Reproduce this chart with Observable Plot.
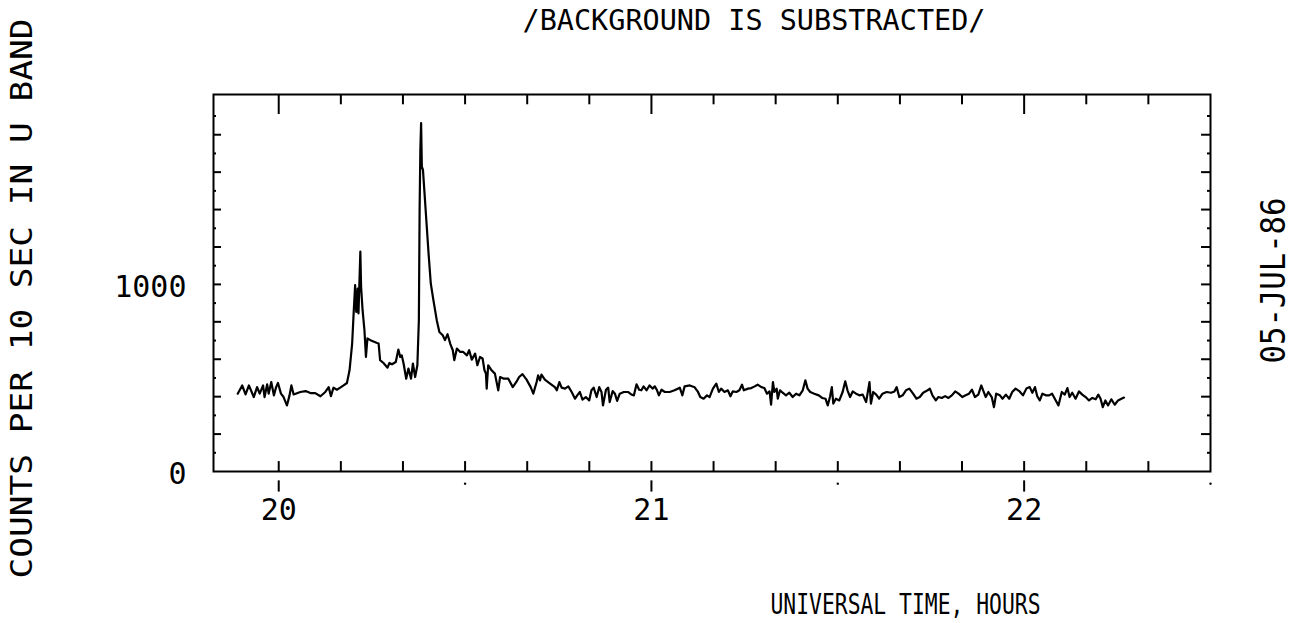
<!DOCTYPE html>
<html><head><meta charset="utf-8">
<script src="https://cdn.jsdelivr.net/npm/d3@7"></script>
<script src="https://cdn.jsdelivr.net/npm/@observablehq/plot@0.6"></script>
<style>body{margin:0;background:#fff;} svg{display:block}</style>
</head><body><div id="chart"></div>
<script>
// Universal time (hours) and counts per 10 s in U band (background subtracted)
const hours = [
19.890,19.902,19.911,19.920,19.933,19.942,19.949,19.958,19.962,19.969,19.973,19.980,19.987,19.993,19.998,
20.006,20.013,20.022,20.029,20.034,20.040,20.058,20.072,20.085,20.098,20.112,20.125,20.134,20.140,20.147,
20.156,20.165,20.174,20.183,20.190,20.197,20.201,20.205,20.208,20.212,20.214,20.219,20.221,20.225,20.230,
20.234,20.238,20.246,20.264,20.268,20.272,20.281,20.292,20.297,20.304,20.314,20.321,20.326,20.330,20.335,
20.342,20.348,20.355,20.360,20.366,20.372,20.376,20.378,20.380,20.382,20.384,20.387,20.390,20.396,20.402,
20.408,20.415,20.424,20.431,20.440,20.446,20.453,20.460,20.467,20.471,20.478,20.487,20.495,20.505,20.511,
20.518,20.527,20.533,20.540,20.547,20.552,20.556,20.558,20.562,20.571,20.580,20.589,20.594,20.604,20.616,
20.628,20.638,20.645,20.654,20.665,20.676,20.683,20.692,20.696,20.701,20.705,20.714,20.728,20.741,20.746,
20.753,20.759,20.768,20.777,20.786,20.795,20.801,20.808,20.815,20.824,20.833,20.839,20.845,20.853,20.860,
20.866,20.870,20.878,20.884,20.888,20.896,20.902,20.908,20.915,20.926,20.937,20.946,20.953,20.960,20.967,
20.973,20.979,20.987,20.995,21.003,21.009,21.015,21.020,21.027,21.036,21.049,21.062,21.076,21.083,21.089,
21.103,21.116,21.125,21.131,21.140,21.149,21.156,21.165,21.174,21.181,21.187,21.196,21.205,21.212,21.218,
21.228,21.236,21.243,21.248,21.259,21.268,21.277,21.285,21.295,21.303,21.310,21.317,21.321,21.326,21.330,
21.336,21.339,21.345,21.352,21.361,21.370,21.379,21.388,21.397,21.406,21.413,21.419,21.426,21.437,21.449,
21.458,21.467,21.473,21.479,21.484,21.488,21.495,21.504,21.513,21.520,21.526,21.533,21.540,21.549,21.558,
21.567,21.576,21.585,21.589,21.595,21.603,21.611,21.620,21.631,21.643,21.652,21.658,21.665,21.674,21.683,
21.692,21.702,21.711,21.720,21.729,21.741,21.747,21.754,21.763,21.770,21.779,21.788,21.797,21.806,21.815,
21.824,21.834,21.843,21.852,21.860,21.868,21.877,21.885,21.890,21.897,21.904,21.913,21.919,21.925,21.935,
21.942,21.951,21.960,21.968,21.977,21.988,21.997,22.006,22.015,22.022,22.029,22.035,22.042,22.049,22.058,
22.067,22.075,22.083,22.092,22.101,22.109,22.116,22.122,22.129,22.138,22.147,22.156,22.165,22.174,22.183,
22.192,22.199,22.205,22.211,22.218,22.225,22.234,22.243,22.252,22.261,22.268
];
const counts = [
416,460,412,460,398,451,416,460,398,466,416,478,407,451,473,
416,398,353,407,460,412,425,430,419,419,402,425,451,403,448,
437,448,460,473,541,684,845,996,853,978,845,1175,987,862,755,
612,711,702,687,684,595,580,555,580,573,585,652,612,621,577,
496,550,496,577,505,568,809,1398,1719,1862,1630,1612,1523,1344,1166,
1005,916,809,746,728,702,734,684,648,595,657,639,639,621,648,
598,630,568,612,604,541,523,443,568,541,523,434,505,496,496,
451,480,505,520,491,451,416,478,514,487,518,491,470,451,434,
478,448,443,455,425,389,407,425,384,398,380,434,448,398,451,
425,353,437,448,371,430,416,377,416,425,425,412,407,466,437,
434,455,434,460,443,455,434,407,437,425,425,434,448,407,455,
460,450,425,398,389,407,398,443,470,425,443,425,434,402,428,
425,434,464,434,443,446,455,464,451,446,416,428,357,478,425,
443,389,434,421,407,421,398,416,407,434,487,443,425,416,407,
393,389,353,398,451,363,389,380,425,482,434,398,428,416,407,
411,371,478,363,425,411,389,416,425,421,428,451,398,407,434,
443,416,389,398,421,434,443,407,380,398,393,403,393,407,428,
416,398,407,416,437,398,411,460,434,398,425,398,344,416,407,
389,411,389,425,443,428,407,443,451,421,451,403,380,416,407,
407,416,386,353,425,411,446,398,421,389,428,411,398,380,393,
386,411,389,344,380,353,386,357,380,389,395
];

const xTickLabels = [20, 21, 22];
const yTickLabels = [0, 1000];
const xMinorTicks = [20, 20.1667, 20.3333, 20.5, 20.6667, 20.8333, 21, 21.1667, 21.3333, 21.5, 21.6667, 21.8333, 22, 22.1667, 22.3333];
const xHalfTicks = [20.5, 21.5, 22.5];
const yMajorTicks = [200, 400, 600, 800, 1000, 1200, 1400, 1600, 1800];
const yMinorTicks = [100, 300, 500, 700, 900, 1100, 1300, 1500, 1700, 1900];

const title = "/BACKGROUND IS SUBSTRACTED/";
const xLabel = "UNIVERSAL TIME, HOURS";
const yLabel = "COUNTS PER 10 SEC IN U BAND";
const dateLabel = "05-JUL-86";

const data = hours.map((h, i) => ({h, c: counts[i]}));
const X0 = 19.825, X1 = 22.5, Y0 = 0, Y1 = 2015;
const font = "DejaVu Sans Mono";

const chart = Plot.plot({
  width: 1306,
  height: 623,
  marginLeft: 213,
  marginRight: 96,
  marginTop: 94,
  marginBottom: 152,
  style: {background: "white", overflow: "visible"},
  x: {domain: [X0, X1], axis: null},
  y: {domain: [Y0, Y1], axis: null},
  marks: [
    Plot.frame({stroke: "black", strokeWidth: 2}),
    // bottom inward ticks
    Plot.ruleX(xMinorTicks, {x: d => d, y1: 0, y2: 53, stroke: "black", strokeWidth: 2}),
    // bottom outward ticks at labelled hours
    Plot.ruleX(xTickLabels, {x: d => d, y1: -50, y2: -110, stroke: "black", strokeWidth: 2}),
    Plot.dot(xHalfTicks, {x: d => d, y: -65, r: 1.2, fill: "black", stroke: null}),
    // top inward ticks
    Plot.ruleX(xMinorTicks, {x: d => d, y1: Y1, y2: d => xTickLabels.includes(Math.round(d * 1000) / 1000) ? Y1 - 107 : Y1 - 55, stroke: "black", strokeWidth: 2}),
    // left ticks
    Plot.ruleY(yMajorTicks, {y: d => d, x1: X0, x2: X0 + 0.0215, stroke: "black", strokeWidth: 2}),
    Plot.ruleY(yMinorTicks, {y: d => d, x1: X0, x2: X0 + 0.008, stroke: "black", strokeWidth: 2}),
    // right ticks
    Plot.ruleY(yMajorTicks, {y: d => d, x1: X1, x2: X1 - 0.024, stroke: "black", strokeWidth: 2}),
    Plot.ruleY(yMinorTicks, {y: d => d, x1: X1, x2: X1 - 0.008, stroke: "black", strokeWidth: 2}),
    // data line
    Plot.line(data, {x: "h", y: "c", stroke: "black", strokeWidth: 2.2, strokeLinejoin: "round"}),
    // tick labels
    Plot.text(xTickLabels, {x: d => d, y: 0, dy: 39, text: d => String(d), fontFamily: font, fontSize: 30, fill: "black", lineAnchor: "middle", textAnchor: "middle"}),
    Plot.text(yTickLabels, {x: X0, y: d => d, dx: -27, dy: 3, text: d => String(d), fontFamily: font, fontSize: 30, fill: "black", lineAnchor: "middle", textAnchor: "end"}),
    // titles
    Plot.text([title], {frameAnchor: "top", dx: 42, dy: -74, text: d => d, fontFamily: font, fontSize: 29, fill: "black", lineAnchor: "middle", textAnchor: "middle"}),
    Plot.text([xLabel], {frameAnchor: "bottom", dx: 193.5, dy: 134, text: d => d, fontFamily: font, fontSize: 28, fill: "black", lineAnchor: "middle", textAnchor: "middle"}),
    Plot.text([yLabel], {frameAnchor: "left", dx: -191, dy: 15.5, rotate: -90, text: d => d, fontFamily: font, fontSize: 31, fill: "black", lineAnchor: "middle", textAnchor: "middle"}),
    Plot.text([dateLabel], {frameAnchor: "right", dx: 64, dy: -2.5, rotate: -90, text: d => d, fontFamily: font, fontSize: 34, fill: "black", lineAnchor: "middle", textAnchor: "middle"})
  ]
});

const lengths = {};
lengths[title] = 463;
lengths[xLabel] = 270;
lengths[yLabel] = 560;
lengths[dateLabel] = 166;
d3.select(chart).selectAll("text").each(function() {
  const t = this.textContent;
  if (lengths[t]) {
    this.setAttribute("textLength", lengths[t]);
    this.setAttribute("lengthAdjust", "spacingAndGlyphs");
  }
});
document.getElementById("chart").appendChild(chart);
</script>
</body></html>
